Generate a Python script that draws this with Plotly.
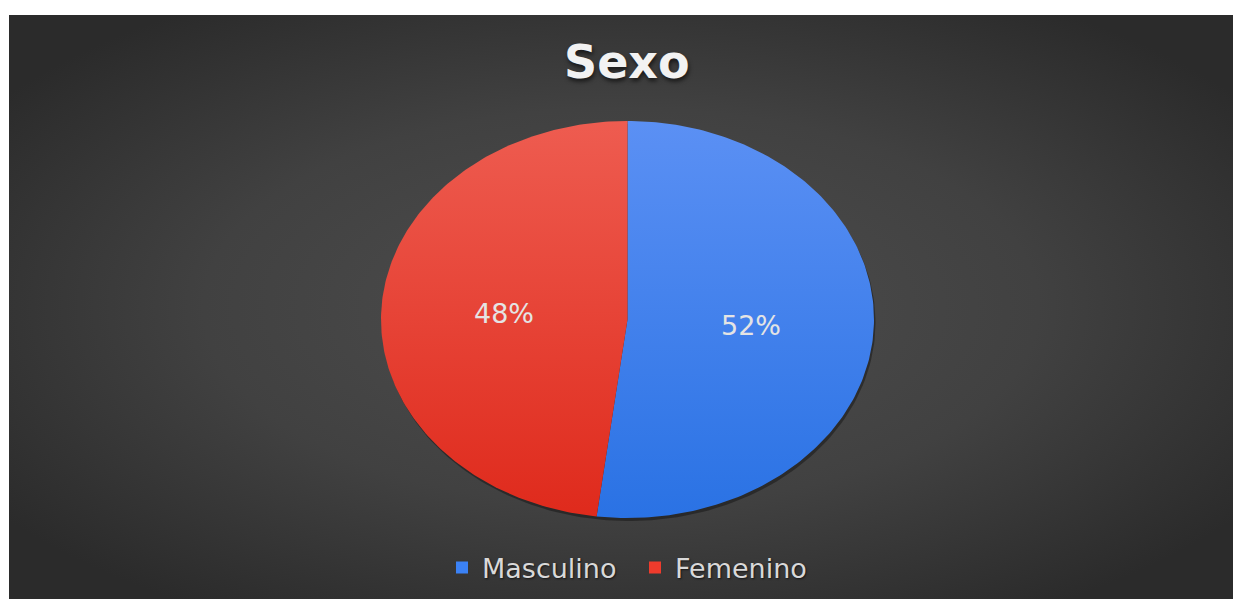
import base64
import numpy as np
import plotly.graph_objects as go

# Survey breakdown by sex
categories = ["Masculino", "Femenino"]
shares = [52, 48]
label_texts = ["52%", "48%"]

W, H = 1233, 599
CX, CY = 627.5, 319.5      # pie centre (pixels)
RX, RY = 246.5, 198.5      # elliptical radii (pixels)

slice_colors = [("#5b90f4", "#2a72e4"), ("#ee5c50", "#df2a1c")]
legend_colors = ["#3b82f6", "#ef3b2c"]

fracs = np.array(shares, dtype=float) / sum(shares)
bounds = np.concatenate([[0.0], np.cumsum(fracs)]) * 2 * np.pi  # clockwise from 12 o'clock


def ellipse_pt(theta, scale=1.0, dx=0.0, dy=0.0):
    return CX + dx + RX * scale * np.sin(theta), CY + dy - RY * scale * np.cos(theta)


fig = go.Figure()

# soft drop shadow under the pie
t = np.linspace(0, 2 * np.pi, 240)
sx, sy = ellipse_pt(t, 1.0, 1.5, 3.0)
fig.add_trace(go.Scatter(x=sx, y=sy, fill="toself", mode="lines",
                         line=dict(width=0), fillcolor="rgba(0,0,0,0.35)",
                         showlegend=False, hoverinfo="skip"))

for i, cat in enumerate(categories):
    a0, a1 = bounds[i], bounds[i + 1]
    th = np.linspace(a0, a1, 200)
    ex, ey = ellipse_pt(th)
    xs = np.concatenate([[CX], ex, [CX]])
    ys = np.concatenate([[CY], ey, [CY]])
    top, bot = slice_colors[i]
    fig.add_trace(go.Scatter(
        x=xs, y=ys, mode="lines", fill="toself",
        line=dict(width=0, color="rgba(0,0,0,0)"),
        fillgradient=dict(type="vertical", colorscale=[[0, bot], [1, top]]),
        name=cat, showlegend=False, hoverinfo="skip"))
    # value label halfway out along the slice bisector
    lx, ly = ellipse_pt((a0 + a1) / 2, 0.5)
    fig.add_annotation(x=lx, y=ly, text=label_texts[i], showarrow=False,
                       font=dict(family="DejaVu Sans", size=27, color="#e4e4e4"))

# legend entries
for cat, col in zip(categories, legend_colors):
    fig.add_trace(go.Scatter(x=[None], y=[None], mode="markers", name=cat,
                             marker=dict(symbol="square", size=12, color=col)))

# radial-gradient chart background
svg = (
    '<svg xmlns="http://www.w3.org/2000/svg" width="1224" height="584" '
    'viewBox="0 0 1224 584" preserveAspectRatio="none">'
    '<defs><radialGradient id="g" cx="0.5" cy="0.5" r="0.62">'
    '<stop offset="0" stop-color="#4e4e4e"/>'
    '<stop offset="0.55" stop-color="#414141"/>'
    '<stop offset="1" stop-color="#2b2b2b"/>'
    '</radialGradient></defs>'
    '<rect width="1224" height="584" fill="url(#g)"/></svg>'
)
src = "data:image/svg+xml;base64," + base64.b64encode(svg.encode()).decode()
fig.add_layout_image(dict(source=src, xref="paper", yref="paper",
                          x=9 / W, y=1 - 15 / H, sizex=(W - 9) / W, sizey=(H - 15) / H,
                          xanchor="left", yanchor="top", sizing="stretch", layer="below"))

fig.add_annotation(x=627, y=62, text="<b>Sexo</b>", showarrow=False,
                   font=dict(family="DejaVu Sans", size=46, color="#f2f2f2",
                             shadow="1px 3px 4px rgba(0,0,0,0.6)"))

fig.update_layout(
    width=W, height=H,
    margin=dict(l=0, r=0, t=0, b=0),
    paper_bgcolor="white", plot_bgcolor="rgba(0,0,0,0)",
    xaxis=dict(range=[0, W], visible=False, fixedrange=True),
    yaxis=dict(range=[H, 0], visible=False, fixedrange=True),
    showlegend=True,
    legend=dict(orientation="h", x=442 / W, xanchor="left", y=1 - 568 / H, yanchor="middle",
                bgcolor="rgba(0,0,0,0)", itemwidth=30,
                entrywidth=148, entrywidthmode="pixels",
                font=dict(family="DejaVu Sans", size=27, color="#d9d9d9",
                          shadow="1px 1px 2px rgba(0,0,0,0.6)")),
)

fig.write_html("out.html")
